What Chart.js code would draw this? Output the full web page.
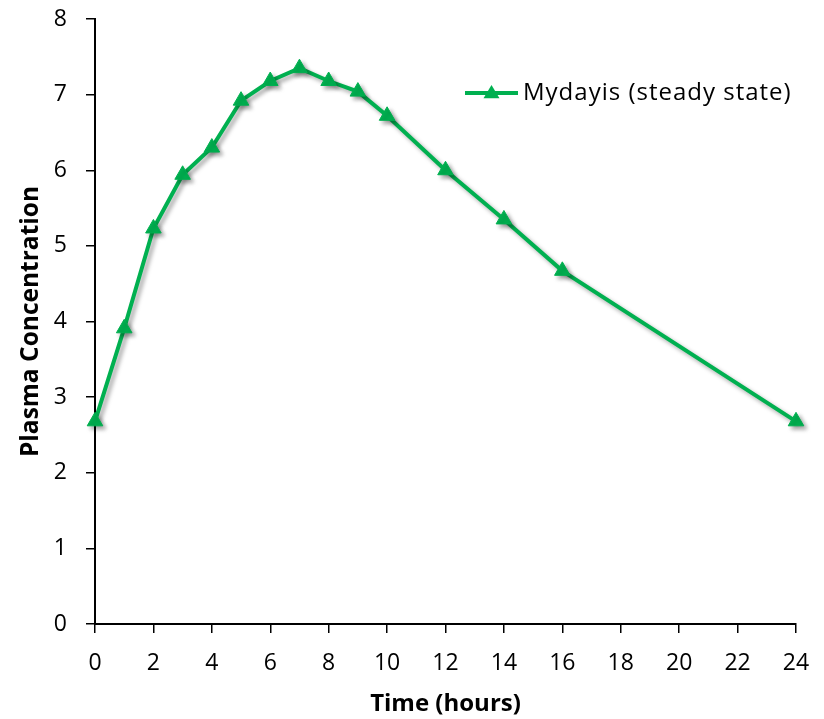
<!DOCTYPE html>
<html>
<head>
<meta charset="utf-8">
<script src="https://cdn.jsdelivr.net/npm/chart.js@4/dist/chart.umd.min.js"></script>
<style>
  html, body { margin: 0; padding: 0; background: #fff; }
  #wrap { width: 824px; height: 719px; }
</style>
</head>
<body>
<div id="wrap"><canvas id="chart" width="824" height="719"></canvas></div>
<script>
// hours after dose
const hours = [0, 1, 2, 3, 4, 5, 6, 7, 8, 9, 10, 12, 14, 16, 24];
// plasma concentration
const plasma = [2.68, 3.91, 5.23, 5.94, 6.30, 6.92, 7.18, 7.35, 7.18, 7.04, 6.72, 6.00, 5.35, 4.67, 2.68];
const seriesLabel = 'Mydayis (steady state)';
const xTitle = 'Time (hours)';
const yTitle = 'Plasma Concentration';

const green = '#00B050';
const fontFamily = '"Open Sans", Lato, sans-serif';

// soft drop shadow under the line, like the office chart
const shadowPlugin = {
    id: 'lineShadow',
    beforeDatasetsDraw(chart) {
        const ctx = chart.ctx;
        ctx.save();
        ctx.shadowColor = 'rgba(0,0,0,0.35)';
        ctx.shadowBlur = 4;
        ctx.shadowOffsetX = 3;
        ctx.shadowOffsetY = 3;
    },
    afterDatasetsDraw(chart) {
        chart.ctx.restore();
    }
};

// legend sits inside the plot, upper right
const insideLegend = {
    id: 'insideLegend',
    afterDraw(chart) {
        const ctx = chart.ctx;
        const ds = chart.data.datasets[0];
        const x0 = 465, x1 = 518, y = 93;
        ctx.save();
        ctx.strokeStyle = green;
        ctx.lineWidth = 4;
        ctx.beginPath();
        ctx.moveTo(x0, y);
        ctx.lineTo(x1, y);
        ctx.stroke();
        const cx = (x0 + x1) / 2, r = 8;
        ctx.fillStyle = green;
        ctx.beginPath();
        ctx.moveTo(cx, y - r);
        ctx.lineTo(cx + r, y + r * 0.65);
        ctx.lineTo(cx - r, y + r * 0.65);
        ctx.closePath();
        ctx.fill();
        ctx.fillStyle = '#000';
        ctx.font = '24px ' + fontFamily;
        ctx.letterSpacing = '1px';
        ctx.textBaseline = 'middle';
        ctx.fillText(ds.label, x1 + 5, y);
        ctx.restore();
    }
};

new Chart(document.getElementById('chart').getContext('2d'), {
    type: 'line',
    data: {
        datasets: [
            {
                label: seriesLabel,
                data: hours.map((h, i) => ({ x: h, y: plasma[i] })),
                borderColor: green,
                backgroundColor: green,
                borderWidth: 4,
                pointStyle: 'triangle',
                pointRadius: 9,
                pointBorderWidth: 1,
                pointBackgroundColor: green,
                pointBorderColor: green,
                tension: 0,
                fill: false,
                clip: false
            }
        ]
    },
    options: {
        responsive: false,
        animation: false,
        layout: { padding: { top: 19, right: 28, left: 0, bottom: 0 } },
        plugins: {
            legend: { display: false },
            tooltip: { enabled: false }
        },
        scales: {
            x: {
                type: 'linear',
                min: 0,
                max: 24,
                ticks: {
                    stepSize: 2,
                    color: '#000',
                    padding: 17,
                    font: { family: fontFamily, size: 23 }
                },
                grid: { drawOnChartArea: false, drawTicks: true, tickLength: 9, color: '#000', lineWidth: 1.5 },
                border: { color: '#000', width: 2 },
                title: {
                    display: true,
                    text: xTitle,
                    color: '#000',
                    padding: { top: 10, bottom: 0 },
                    font: { family: fontFamily, size: 24, weight: 'bold' }
                },
                afterFit(scale) {
                    scale.height = 95;
                    scale.paddingLeft = 0;
                    scale.paddingRight = 0;
                }
            },
            y: {
                min: 0,
                max: 8,
                ticks: {
                    stepSize: 1,
                    color: '#000',
                    padding: 19,
                    font: { family: fontFamily, size: 23 }
                },
                grid: { drawOnChartArea: false, drawTicks: true, tickLength: 9, color: '#000', lineWidth: 1.5 },
                border: { color: '#000', width: 2 },
                title: {
                    display: true,
                    text: yTitle,
                    color: '#000',
                    padding: { top: 16, bottom: 0 },
                    font: { family: fontFamily, size: 24.5, weight: 'bold' }
                },
                afterFit(scale) {
                    scale.width = 95;
                    scale.paddingTop = 0;
                    scale.paddingBottom = 0;
                }
            }
        }
    },
    plugins: [shadowPlugin, insideLegend]
});
</script>
</body>
</html>
